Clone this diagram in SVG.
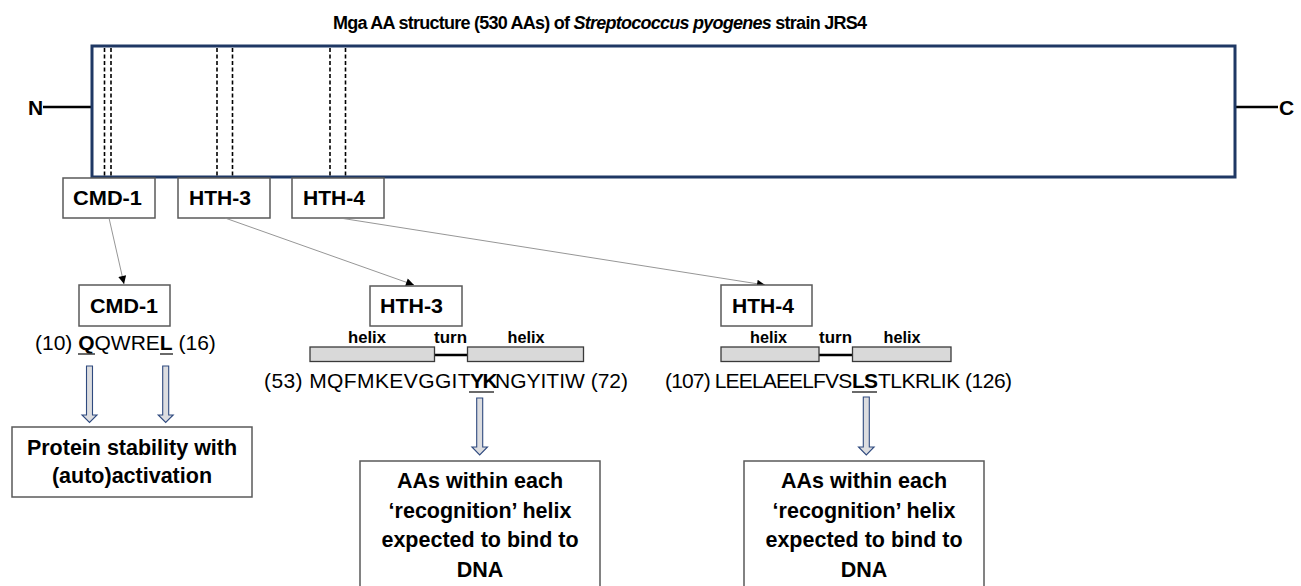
<svg xmlns="http://www.w3.org/2000/svg" width="1301" height="586" viewBox="0 0 1301 586">
  <style>
    text { font-family: "Liberation Sans", Arial, sans-serif; fill: #000; }
    .title { font-size: 18px; font-weight: bold; letter-spacing: -0.75px; }
    .term { font-size: 21px; font-weight: bold; }
    .lbl { font-size: 20.5px; font-weight: bold; }
    .hx { font-size: 16.5px; font-weight: bold; }
    .seq { font-size: 21px; }
    .b { font-weight: bold; }
    .note { font-size: 21.5px; font-weight: bold; text-anchor: middle; }
    .box { fill: #fff; stroke: #5a5a5a; stroke-width: 1.5; }
    .helix { fill: #d9d9d9; stroke: #3a3a3a; stroke-width: 1.3; }
    .dash { stroke: #000; stroke-width: 1.6; stroke-dasharray: 4 2.5; }
    .link { stroke: #8a8a8a; stroke-width: 0.9; fill: none; }
    .barrow { fill: #dcdde0; stroke: #2f4a7f; stroke-width: 1.1; }
    .ul { stroke: #444; stroke-width: 1.6; }
  </style>
  <defs>
    <marker id="tip" viewBox="0 0 10 10" refX="10" refY="5" markerWidth="9" markerHeight="8" markerUnits="userSpaceOnUse" orient="auto">
      <path d="M0,0 L10,5 L0,10 Z" fill="#000"/>
    </marker>
  </defs>

  <!-- heading -->
  <text class="title" x="333" y="29">Mga AA structure (530 AAs) of <tspan font-style="italic">Streptococcus pyogenes</tspan> strain JRS4</text>

  <!-- full-length protein bar -->
  <g id="protein">
    <line x1="43" y1="107" x2="91" y2="107" stroke="#000" stroke-width="2.5"/>
    <line x1="1235" y1="107" x2="1278" y2="107" stroke="#000" stroke-width="2.5"/>
    <text class="term" x="28" y="115">N</text>
    <text class="term" x="1279" y="115">C</text>
    <rect x="92" y="46" width="1143" height="131" fill="#fff" stroke="#1f3864" stroke-width="3"/>
    <line class="dash" x1="104.5" y1="48" x2="104.5" y2="176"/>
    <line class="dash" x1="111" y1="48" x2="111" y2="176"/>
    <line class="dash" x1="217" y1="48" x2="217" y2="176"/>
    <line class="dash" x1="232.5" y1="48" x2="232.5" y2="176"/>
    <line class="dash" x1="330" y1="48" x2="330" y2="176"/>
    <line class="dash" x1="345.5" y1="48" x2="345.5" y2="176"/>
  </g>

  <!-- domain tags under the bar -->
  <g id="tag-cmd1">
    <rect class="box" x="63" y="178" width="92" height="40"/>
    <text class="lbl" x="73" y="205" textLength="69" lengthAdjust="spacingAndGlyphs">CMD-1</text>
  </g>
  <g id="tag-hth3">
    <rect class="box" x="178" y="178" width="92" height="40"/>
    <text class="lbl" x="189" y="205" textLength="62" lengthAdjust="spacingAndGlyphs">HTH-3</text>
  </g>
  <g id="tag-hth4">
    <rect class="box" x="292" y="178" width="92" height="40"/>
    <text class="lbl" x="303" y="205" textLength="62" lengthAdjust="spacingAndGlyphs">HTH-4</text>
  </g>

  <!-- connectors -->
  <g id="connectors">
    <line class="link" x1="109" y1="218" x2="124" y2="284" marker-end="url(#tip)"/>
    <line class="link" x1="225" y1="218" x2="414" y2="285" marker-end="url(#tip)"/>
    <line class="link" x1="340" y1="218" x2="765" y2="285" marker-end="url(#tip)"/>
  </g>

  <!-- CMD-1 detail -->
  <g id="detail-cmd1">
    <rect class="box" x="79" y="285" width="91" height="41"/>
    <text class="lbl" x="90" y="313" textLength="68" lengthAdjust="spacingAndGlyphs">CMD-1</text>
    <text class="seq" x="35" y="350">(10) <tspan class="b">Q</tspan>QWRE<tspan class="b">L</tspan> (16)</text>
    <line class="ul" x1="78" y1="354" x2="95" y2="354"/>
    <line class="ul" x1="160" y1="354" x2="173" y2="354"/>
    <path class="barrow" d="M86.5,366 H92.5 V415 H97 L89.5,422.5 L82,415 H86.5 Z"/>
    <path class="barrow" d="M162.7,366 H168.7 V415 H173.2 L165.7,422.5 L158.2,415 H162.7 Z"/>
  </g>
  <g id="effect-cmd1">
    <rect class="box" x="12" y="427" width="240" height="70"/>
    <text class="note" x="132" y="455">Protein stability with</text>
    <text class="note" x="132" y="483">(auto)activation</text>
  </g>

  <!-- HTH-3 detail -->
  <g id="detail-hth3">
    <rect class="box" x="370" y="286" width="92" height="40"/>
    <text class="lbl" x="380" y="313" textLength="63" lengthAdjust="spacingAndGlyphs">HTH-3</text>
    <text class="hx" x="348" y="343" textLength="38" lengthAdjust="spacingAndGlyphs">helix</text>
    <text class="hx" x="434" y="343" textLength="33" lengthAdjust="spacingAndGlyphs">turn</text>
    <text class="hx" x="507.5" y="343" textLength="37" lengthAdjust="spacingAndGlyphs">helix</text>
    <line x1="434" y1="355" x2="468" y2="355" stroke="#000" stroke-width="2.6"/>
    <rect class="helix" x="310" y="347" width="124.5" height="14.5"/>
    <rect class="helix" x="467.5" y="347" width="116" height="14.5"/>
    <text class="seq" y="388"><tspan x="264" letter-spacing="0.4">(53) MQFMKEVGGIT</tspan><tspan class="b" x="470" letter-spacing="-1.5">YK</tspan><tspan x="495">NGYITIW (72)</tspan></text>
    <line class="ul" x1="469" y1="392" x2="494" y2="392"/>
    <path class="barrow" d="M476.7,398 H482.7 V447 H487.5 L479.7,455 L471.9,447 H476.7 Z"/>
  </g>
  <g id="effect-hth3">
    <rect class="box" x="360" y="461" width="240" height="140"/>
    <text class="note" x="480" y="488">AAs within each</text>
    <text class="note" x="480" y="518">‘recognition’ helix</text>
    <text class="note" x="480" y="547">expected to bind to</text>
    <text class="note" x="480" y="577">DNA</text>
  </g>

  <!-- HTH-4 detail -->
  <g id="detail-hth4">
    <rect class="box" x="721" y="285" width="91" height="41"/>
    <text class="lbl" x="732" y="313" textLength="62" lengthAdjust="spacingAndGlyphs">HTH-4</text>
    <text class="hx" x="750" y="343" textLength="37" lengthAdjust="spacingAndGlyphs">helix</text>
    <text class="hx" x="819" y="343" textLength="33" lengthAdjust="spacingAndGlyphs">turn</text>
    <text class="hx" x="883.5" y="343" textLength="37" lengthAdjust="spacingAndGlyphs">helix</text>
    <line x1="819" y1="355" x2="853" y2="355" stroke="#000" stroke-width="2.6"/>
    <rect class="helix" x="721" y="347" width="98" height="14.5"/>
    <rect class="helix" x="852.5" y="347" width="98.5" height="14.5"/>
    <text class="seq" y="388"><tspan x="665" letter-spacing="-0.85">(107) LEELAEELFVS</tspan><tspan class="b" x="852" letter-spacing="-0.9">LS</tspan><tspan x="878" letter-spacing="-0.5">TLKRLIK (126)</tspan></text>
    <line class="ul" x1="852" y1="392" x2="877" y2="392"/>
    <path class="barrow" d="M863.3,397 H869.3 V447 H874.1 L866.3,455 L858.5,447 H863.3 Z"/>
  </g>
  <g id="effect-hth4">
    <rect class="box" x="744" y="461" width="240" height="140"/>
    <text class="note" x="864" y="488">AAs within each</text>
    <text class="note" x="864" y="518">‘recognition’ helix</text>
    <text class="note" x="864" y="547">expected to bind to</text>
    <text class="note" x="864" y="577">DNA</text>
  </g>
</svg>
